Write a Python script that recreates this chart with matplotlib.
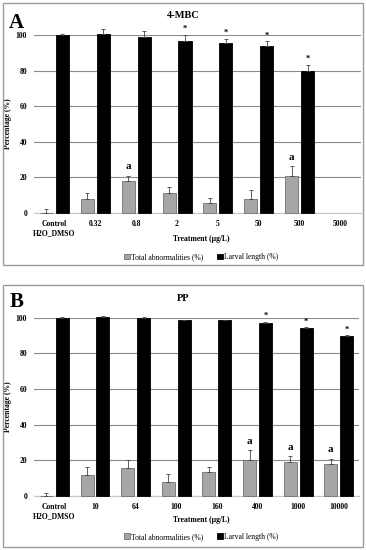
import numpy as np
import matplotlib
matplotlib.use("Agg")
import matplotlib.pyplot as plt
from matplotlib.patches import Rectangle

plt.rcParams['font.family'] = ['Liberation Serif', 'DejaVu Serif']

# Panel A: 4-MBC
cats_a = ["Control\nH2O_DMSO", "0.32", "0.8", "2", "5", "50", "500", "5000"]
abn_a = [0, 7.8, 17.9, 11.0, 5.5, 7.6, 20.8, np.nan]
abn_err_a = [2.0, 3.2, 3.1, 3.5, 2.7, 5.2, 5.5, 0]
len_a = [100, 100.4, 99.1, 96.8, 95.5, 93.8, 80.0, np.nan]
len_err_a = [0.7, 2.8, 2.9, 3.2, 2.3, 2.6, 3.2, 0]
abn_mark_a = ["", "", "a", "", "", "", "a", ""]
len_mark_a = ["", "", "", "*", "*", "*", "*", ""]

# Panel B: PP
cats_b = ["Control\nH2O_DMSO", "10", "64", "100", "160", "400", "1000", "10000"]
abn_b = [0, 11.4, 15.7, 7.7, 13.1, 20.0, 18.9, 17.6]
abn_err_b = [1.7, 4.9, 4.1, 4.4, 3.0, 5.6, 3.3, 3.3]
len_b = [100, 100.3, 100, 98.5, 98.5, 97.2, 94.2, 89.7]
len_err_b = [0.4, 0.5, 0.3, 0.4, 0.4, 0.5, 0.4, 0.4]
abn_mark_b = ["", "", "", "", "", "a", "a", "a"]
len_mark_b = ["", "", "", "", "", "*", "*", "*"]

GRAY = "#a6a6a6"
GRID = "#8c8c8c"


def draw_panel(fig, rect, frame, letter, title, cats, abn, abn_err, lng, lng_err,
               abn_mark, len_mark, title_y, letter_y, xlabel_y, legend_y):
    fig.add_artist(Rectangle((frame[0], frame[1]), frame[2], frame[3],
                             transform=fig.transFigure, fill=False,
                             edgecolor="#9a9a9a", linewidth=1.0))
    ax = fig.add_axes(rect)
    x = np.arange(len(cats))
    w = 0.32
    off = 0.195
    abn = np.array(abn, dtype=float)
    lng = np.array(lng, dtype=float)
    ax.bar(x - off, abn, w, color=GRAY, edgecolor="#707070", linewidth=0.6,
           label="Total abnormalities (%)", clip_on=False, zorder=3)
    ax.bar(x + off, lng, w, color="black", edgecolor="black", linewidth=0.6,
           label="Larval length (%)", clip_on=False, zorder=3)
    for i in range(len(cats)):
        if not np.isnan(abn[i]):
            ax.errorbar(x[i] - off, abn[i], yerr=[[0], [abn_err[i]]], fmt="none",
                        ecolor="#444444", elinewidth=0.6, capsize=1.5,
                        capthick=0.6, clip_on=False, zorder=4)
            if abn_mark[i]:
                ax.text(x[i] - off, abn[i] + abn_err[i] + 2.5, abn_mark[i],
                        ha="center", va="bottom", fontsize=8, fontweight="bold")
        if not np.isnan(lng[i]):
            ax.errorbar(x[i] + off, lng[i], yerr=[[0], [lng_err[i]]], fmt="none",
                        ecolor="#444444", elinewidth=0.6, capsize=1.5,
                        capthick=0.6, clip_on=False, zorder=4)
            if len_mark[i]:
                ax.text(x[i] + off, lng[i] + lng_err[i] + 1.0, len_mark[i],
                        ha="center", va="bottom", fontsize=6, fontweight="bold")
    ax.set_xlim(-0.5, len(cats) - 0.5)
    ax.set_ylim(0, 100)
    ax.set_yticks(range(0, 101, 20))
    ax.yaxis.grid(True, color=GRID, linewidth=0.8, zorder=0)
    ax.set_axisbelow(True)
    for s in ["top", "right", "left"]:
        ax.spines[s].set_visible(False)
    ax.spines["bottom"].set_color("#c8c8c8")
    ax.set_xticks(x)
    ax.set_xticklabels(cats, fontsize=5.5, fontweight="bold", linespacing=1.2)
    ax.tick_params(axis="both", length=0, labelsize=5.5, pad=5)
    for lab in ax.get_yticklabels():
        lab.set_fontweight("bold")
    ax.set_ylabel("Percentage (%)", fontsize=5.5, fontweight="bold", labelpad=3)
    fig.text(0.5, title_y, title, ha="center", va="center", fontsize=7.5,
             fontweight="bold")
    fig.text(0.025, letter_y, letter, ha="left", va="center", fontsize=15,
             fontweight="bold")
    fig.text(0.55, xlabel_y, "Treatment (\u00b5g/L)", ha="center", va="center",
             fontsize=5.5, fontweight="bold")
    ax.legend(loc="center", bbox_to_anchor=(0.55, legend_y),
              bbox_transform=fig.transFigure, ncol=2, frameon=False,
              fontsize=5.5, handlelength=0.7, handleheight=0.7,
              handletextpad=0.2, columnspacing=1.8)
    return ax


fig = plt.figure(figsize=(3.66, 5.5), dpi=100)

draw_panel(fig, [0.093, 0.6127, 0.893, 0.3237], [0.008, 0.518, 0.984, 0.476],
           "A", "4-MBC", cats_a, abn_a, abn_err_a, len_a, len_err_a,
           abn_mark_a, len_mark_a, 0.972, 0.958, 0.565, 0.532)

draw_panel(fig, [0.093, 0.0987, 0.888, 0.3237], [0.008, 0.006, 0.984, 0.476],
           "B", "PP", cats_b, abn_b, abn_err_b, len_b, len_err_b,
           abn_mark_b, len_mark_b, 0.458, 0.451, 0.055, 0.024)

fig.savefig("out.png", dpi=100)
